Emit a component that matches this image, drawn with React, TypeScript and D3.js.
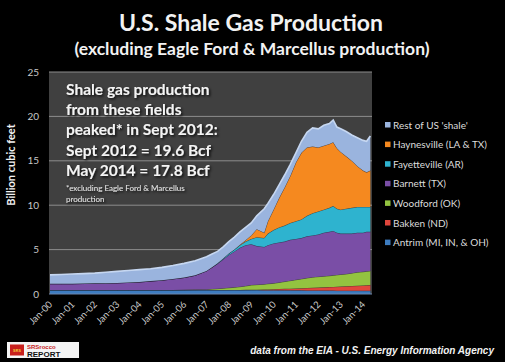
import * as d3 from "d3";

// monthly EIA shale gas production, Bcf/d
const dates = [
  "2000-01", "2000-07", "2001-01", "2001-07", "2002-01", "2002-07", "2003-01", "2003-07",
  "2004-01", "2004-07", "2005-01", "2005-07", "2006-01", "2006-07", "2007-01", "2007-04",
  "2007-07", "2007-10", "2008-01", "2008-04", "2008-07", "2008-10", "2009-01", "2009-04",
  "2009-08", "2009-10", "2010-01", "2010-04", "2010-07", "2010-10", "2011-01", "2011-04",
  "2011-07", "2011-10", "2012-01", "2012-04", "2012-07", "2012-09", "2012-11", "2013-01",
  "2013-04", "2013-07", "2013-10", "2014-01", "2014-03", "2014-05",
];

const antrim = [
  0.45, 0.45, 0.45, 0.45, 0.45, 0.45, 0.45, 0.45, 0.45, 0.45, 0.45, 0.45, 0.45, 0.45, 0.45, 0.45,
  0.45, 0.45, 0.45, 0.45, 0.44, 0.44, 0.44, 0.44, 0.43, 0.43, 0.43, 0.42, 0.42, 0.42, 0.41, 0.41,
  0.4, 0.4, 0.4, 0.39, 0.39, 0.39, 0.38, 0.38, 0.38, 0.37, 0.37, 0.36, 0.36, 0.36,
];
const bakken = [
  0, 0, 0, 0, 0, 0, 0, 0, 0, 0, 0, 0, 0, 0, 0, 0,
  0, 0, 0, 0.01, 0.02, 0.03, 0.04, 0.05, 0.07, 0.09, 0.11, 0.14, 0.16, 0.18, 0.21, 0.24,
  0.28, 0.3, 0.32, 0.36, 0.39, 0.41, 0.44, 0.46, 0.49, 0.53, 0.56, 0.6, 0.62, 0.64,
];
const woodford = [
  0, 0, 0, 0, 0, 0, 0, 0, 0, 0, 0, 0, 0.02, 0.05, 0.07, 0.1,
  0.15, 0.2, 0.25, 0.29, 0.36, 0.43, 0.52, 0.56, 0.6, 0.63, 0.66, 0.74, 0.82, 0.9, 0.98, 1.05,
  1.12, 1.2, 1.23, 1.25, 1.27, 1.3, 1.33, 1.36, 1.38, 1.45, 1.52, 1.54, 1.57, 1.6,
];
const barnett = [
  0.7, 0.7, 0.7, 0.73, 0.75, 0.77, 0.8, 0.85, 0.9, 1.0, 1.1, 1.25, 1.38, 1.6, 2.08, 2.45,
  2.8, 3.25, 3.7, 4.05, 4.38, 4.6, 4.6, 4.35, 4.2, 4.35, 4.5, 4.5, 4.5, 4.6, 4.6, 4.6,
  4.7, 4.7, 4.75, 4.9, 4.95, 5.0, 4.75, 4.6, 4.55, 4.45, 4.45, 4.4, 4.45, 4.4,
];
const fayetteville = [
  0, 0, 0, 0, 0, 0, 0, 0, 0, 0, 0, 0, 0, 0, 0, 0,
  0.05, 0.1, 0.15, 0.2, 0.3, 0.4, 0.6, 1.0, 1.0, 1.3, 1.5, 1.7, 1.8, 1.9, 2.0, 2.1,
  2.3, 2.5, 2.6, 2.6, 2.7, 2.8, 2.7, 2.7, 2.8, 2.9, 2.9, 2.9, 2.8, 2.8,
];
const haynesville = [
  0, 0, 0, 0, 0, 0, 0, 0, 0, 0, 0, 0, 0, 0, 0, 0,
  0, 0, 0, 0, 0.05, 0.15, 0.4, 0.9, 0.6, 1.4, 2.3, 3.3, 4.3, 5.3, 6.6, 7.5,
  7.7, 7.5, 7.2, 7.2, 7.2, 7.2, 6.8, 6.5, 5.9, 5.3, 4.6, 4.1, 3.9, 4.1,
];
const restOfUs = [
  1.0, 1.05, 1.1, 1.12, 1.15, 1.23, 1.3, 1.35, 1.4, 1.4, 1.45, 1.5, 1.6, 1.65, 1.6, 1.5,
  1.35, 1.3, 1.35, 1.4, 1.45, 1.45, 1.4, 1.5, 2.7, 2.0, 1.7, 1.5, 1.4, 1.3, 1.1, 1.3,
  1.7, 2.1, 2.1, 2.3, 2.3, 2.5, 2.4, 2.6, 2.8, 2.9, 3.2, 3.4, 3.5, 3.9,
];

const series = [
  { key: "antrim", name: "Antrim (MI, IN, & OH)", values: antrim, color: "#3d7cc0" },
  { key: "bakken", name: "Bakken (ND)", values: bakken, color: "#e0463c" },
  { key: "woodford", name: "Woodford  (OK)", values: woodford, color: "#93c340" },
  { key: "barnett", name: "Barnett (TX)", values: barnett, color: "#7a4ea6" },
  { key: "fayetteville", name: "Fayetteville (AR)", values: fayetteville, color: "#2eb3cf" },
  { key: "haynesville", name: "Haynesville (LA & TX)", values: haynesville, color: "#f5891f" },
  { key: "rest", name: "Rest of US 'shale'", values: restOfUs, color: "#9ab4de" },
];

const yTicks = [0, 5, 10, 15, 20, 25];
const xTickYears = d3.range(2000, 2015);

const noteLines = [
  "Shale gas production",
  "from these fields",
  "peaked* in Sept 2012:",
  "Sept 2012 = 19.6 Bcf",
  "May 2014 = 17.8 Bcf",
];
const footLines = ["*excluding Eagle Ford & Marcellus", "production"];

const plot = { left: 49, right: 372, top: 72, bottom: 294 };
const calibri = "Lato, 'Open Sans', sans-serif";

export default function App() {
  const parse = d3.timeParse("%Y-%m");
  const rows = dates.map((d, i) => {
    const row: Record<string, any> = { date: parse(d) };
    series.forEach((s) => (row[s.key] = s.values[i]));
    return row;
  });

  const x = d3
    .scaleTime()
    .domain([new Date(2000, 0, 1), new Date(2014, 0, 1)])
    .range([50, 363]);
  const y = d3.scaleLinear().domain([0, 25]).range([plot.bottom, plot.top]);

  const stacked = d3.stack<any>().keys(series.map((s) => s.key))(rows);
  const area = d3
    .area<any>()
    .x((d) => x(d.data.date))
    .y0((d) => y(d[0]))
    .y1((d) => y(d[1]));
  const topLine = d3
    .line<any>()
    .x((d) => x(d.data.date))
    .y((d) => y(d[1]));

  const legendItems = [...series].reverse();

  return (
    <svg
      width={505}
      height={362}
      style={{ position: "absolute", left: 0, top: 0, background: "#000" }}
      fontFamily={calibri}
    >
      <rect x={0} y={0} width={505} height={362} fill="#000" />
      <text x={251} y={31} textAnchor="middle" fill="#f2f2f2" fontSize={23} fontWeight="bold">
        U.S. Shale Gas Production
      </text>
      <text x={252} y={55} textAnchor="middle" fill="#f2f2f2" fontSize={17.5} fontWeight="bold">
        (excluding Eagle Ford &amp; Marcellus production)
      </text>

      <rect
        x={plot.left}
        y={plot.top}
        width={plot.right - plot.left}
        height={plot.bottom - plot.top}
        fill="#404040"
      />
      {yTicks.map((t) => (
        <g key={t}>
          {t > 0 && (
            <line x1={plot.left} x2={plot.right} y1={y(t)} y2={y(t)} stroke="#8c8c8c" strokeWidth={1} />
          )}
          <text x={39} y={y(t) + 3.5} textAnchor="end" fill="#c8c8c8" fontSize={10}>
            {t}
          </text>
        </g>
      ))}

      {stacked.map((layer, i) => (
        <g key={layer.key}>
          <path d={area(layer) ?? ""} fill={series[i].color} />
          <path
            d={topLine(layer) ?? ""}
            fill="none"
            stroke={series[i].key === "rest" ? "#c6d7f1" : "rgba(30,30,40,0.55)"}
            strokeWidth={series[i].key === "rest" ? 1.6 : 1}
          />
        </g>
      ))}
      <line x1={plot.left} x2={plot.right} y1={plot.bottom} y2={plot.bottom} stroke="#6a86b0" strokeWidth={1} />

      <text
        transform={`translate(15,165) rotate(-90)`}
        textAnchor="middle"
        fill="#f2f2f2"
        fontSize={11}
        fontWeight="bold"
      >
        Billion  cubic feet
      </text>

      {xTickYears.map((yr) => {
        const px = x(new Date(yr, 0, 1));
        return (
          <text
            key={yr}
            transform={`translate(${px + 3},${plot.bottom + 11}) rotate(-45)`}
            textAnchor="end"
            fill="#c8c8c8"
            fontSize={9.5}
          >
            {`Jan-${String(yr % 100).padStart(2, "0")}`}
          </text>
        );
      })}

      <g filter="url(#shadow)">
        {noteLines.map((l, i) => (
          <text key={l} x={66} y={95 + i * 20.2} fill="#f4f4f4" fontSize={15.5} fontWeight="bold">
            {l}
          </text>
        ))}
        {footLines.map((l, i) => (
          <text key={l} x={66} y={191 + i * 10.5} fill="#e6e6e6" fontSize={8}>
            {l}
          </text>
        ))}
      </g>
      <defs>
        <filter id="shadow" x="-10%" y="-10%" width="130%" height="130%">
          <feDropShadow dx={1.5} dy={1.5} stdDeviation={1.2} floodColor="#000" floodOpacity={0.8} />
        </filter>
      </defs>

      {legendItems.map((s, i) => (
        <g key={s.key} transform={`translate(385,${125 + i * 19.6})`}>
          <rect x={0} y={-3} width={5.5} height={5.5} fill={s.color} />
          <text x={8} y={3.6} fill="#dcdcdc" fontSize={10}>
            {s.name}
          </text>
        </g>
      ))}

      <g>
        <rect x={7} y={342} width={72} height={16} fill="#f4f4f4" />
        <rect x={10} y={344.5} width={14} height={11} fill="#c8201d" />
        <text x={17} y={352} textAnchor="middle" fill="#f5d23a" fontSize={4.5} fontWeight="bold">
          SRS
        </text>
        <text x={27} y={349} fill="#c8201d" fontSize={6} fontWeight="bold" fontFamily="Arial, sans-serif">
          SRSrocco
        </text>
        <text x={27} y={356.5} fill="#111" fontSize={8} fontWeight="bold" fontFamily="Arial, sans-serif">
          REPORT
        </text>
      </g>

      <text
        x={494}
        y={354}
        textAnchor="end"
        fill="#f2f2f2"
        fontSize={10}
        fontWeight="bold"
        fontStyle="italic"
        fontFamily="'Liberation Sans', Arial, sans-serif"
      >
        data from the EIA - U.S. Energy Information Agency
      </text>
    </svg>
  );
}
